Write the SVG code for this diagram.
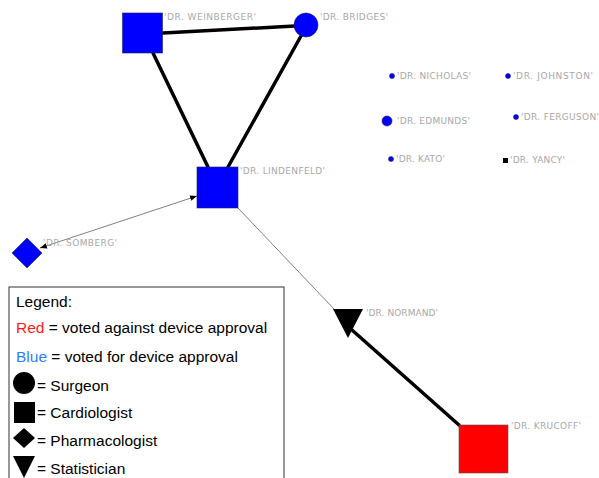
<svg xmlns="http://www.w3.org/2000/svg" width="599" height="478" viewBox="0 0 599 478">
  <defs>
    <style>
      .blue { fill: #0000ff; stroke: #202060; stroke-width: 0.6; }
      .red { fill: #ff0000; stroke: #505050; stroke-width: 0.6; }
      .blk { fill: #000000; }
      .lbl { font-family: "DejaVu Sans", sans-serif; font-size: 9px; fill: #a8a8a8; }
      .thick { stroke: #000; stroke-width: 3.5; fill: none; stroke-linecap: round; }
      .thin { stroke: #808080; stroke-width: 1; fill: none; }
      .lg { font-family: "Liberation Sans", Arial, sans-serif; font-size: 15.5px; fill: #000; }
    </style>
    <marker id="tip" viewBox="0 0 10 10" refX="10" refY="5" markerWidth="7" markerHeight="7" markerUnits="userSpaceOnUse" orient="auto-start-reverse">
      <path d="M0,1 L10,5 L0,9 z" fill="#000"/>
    </marker>
  </defs>

  <!-- connectors -->
  <g id="edges">
    <line class="thick" x1="163" y1="33" x2="295" y2="26"/>
    <line class="thick" x1="153" y1="53" x2="208" y2="167"/>
    <line class="thick" x1="301" y1="36" x2="228" y2="167"/>
    <line class="thin" x1="40" y1="248" x2="197" y2="196" marker-start="url(#tip)" marker-end="url(#tip)"/>
    <line class="thin" x1="238" y1="208" x2="334" y2="309"/>
    <line class="thick" x1="459" y1="425" x2="352" y2="330"/>
  </g>

  <g id="weinberger">
    <rect class="blue" x="122.5" y="13" width="40" height="40"/>
    <text class="lbl" x="164" y="20" textLength="92" lengthAdjust="spacing">'DR. WEINBERGER'</text>
  </g>
  <g id="bridges">
    <circle class="blue" cx="306" cy="25" r="12"/>
    <text class="lbl" x="320" y="20" textLength="68" lengthAdjust="spacing">'DR. BRIDGES'</text>
  </g>
  <g id="lindenfeld">
    <rect class="blue" x="197" y="167" width="41" height="41"/>
    <text class="lbl" x="240" y="174" textLength="85" lengthAdjust="spacing">'DR. LINDENFELD'</text>
  </g>
  <g id="somberg">
    <path class="blue" d="M27,238 L42,253 L27,268 L12,253 z"/>
    <text class="lbl" x="43" y="246" textLength="74" lengthAdjust="spacing">'DR. SOMBERG'</text>
  </g>
  <g id="normand">
    <path class="blk" d="M333,309 L363,309 L348,338 z"/>
    <text class="lbl" x="366" y="316" textLength="72" lengthAdjust="spacing">'DR. NORMAND'</text>
  </g>
  <g id="krucoff">
    <rect class="red" x="459" y="425" width="49" height="48"/>
    <text class="lbl" x="511" y="429" textLength="70" lengthAdjust="spacing">'DR. KRUCOFF'</text>
  </g>
  <g id="nicholas">
    <circle class="blue" cx="392" cy="76" r="2.5"/>
    <text class="lbl" x="397" y="79" textLength="74" lengthAdjust="spacing">'DR. NICHOLAS'</text>
  </g>
  <g id="johnston">
    <circle class="blue" cx="508" cy="76" r="2.5"/>
    <text class="lbl" x="513" y="79" textLength="80" lengthAdjust="spacing">'DR. JOHNSTON'</text>
  </g>
  <g id="edmunds">
    <circle class="blue" cx="387" cy="121" r="5"/>
    <text class="lbl" x="397" y="124" textLength="73" lengthAdjust="spacing">'DR. EDMUNDS'</text>
  </g>
  <g id="ferguson">
    <circle class="blue" cx="516" cy="117" r="2.5"/>
    <text class="lbl" x="521" y="120" textLength="78" lengthAdjust="spacing">'DR. FERGUSON'</text>
  </g>
  <g id="kato">
    <circle class="blue" cx="391" cy="159" r="2.5"/>
    <text class="lbl" x="396" y="162" textLength="49" lengthAdjust="spacing">'DR. KATO'</text>
  </g>
  <g id="yancy">
    <rect class="blk" x="503" y="158" width="5" height="5"/>
    <text class="lbl" x="510" y="163" textLength="55" lengthAdjust="spacing">'DR. YANCY'</text>
  </g>

  <!-- legend box -->
  <g id="legend">
    <rect x="9" y="287" width="275" height="200" fill="#fff" stroke="#333" stroke-width="1"/>
    <text class="lg" x="16" y="307">Legend:</text>
    <text class="lg" x="16" y="333"><tspan fill="#ff1a1a">Red</tspan> = voted against device approval</text>
    <text class="lg" x="16" y="362"><tspan fill="#2a7fff">Blue</tspan> = voted for device approval</text>
    <circle class="blk" cx="24" cy="383" r="11"/>
    <text class="lg" x="37" y="391">= Surgeon</text>
    <rect class="blk" x="14" y="402" width="21" height="21"/>
    <text class="lg" x="37" y="418">= Cardiologist</text>
    <path class="blk" d="M24,428 L35,438 L24,448 L13,438 z"/>
    <text class="lg" x="37" y="446">= Pharmacologist</text>
    <path class="blk" d="M13,456 L35,456 L24,478 z"/>
    <text class="lg" x="37" y="474">= Statistician</text>
  </g>
</svg>
